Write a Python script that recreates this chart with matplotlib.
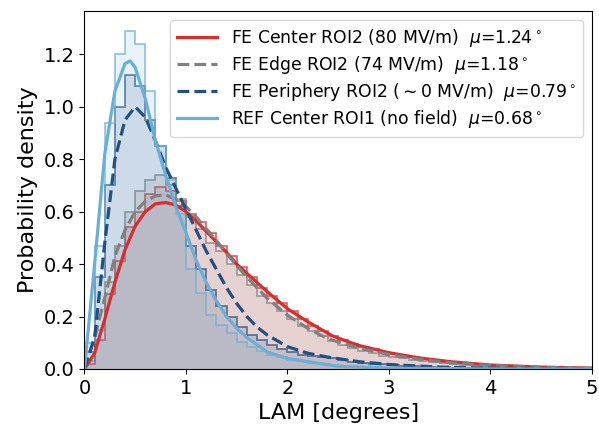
import numpy as np
import matplotlib
matplotlib.use("Agg")
import matplotlib.pyplot as plt

# bin edges of the LAM histograms (degrees)
edges = np.round(np.arange(0, 5.01, 0.1), 2)

# histogram heights (probability density), one value per 0.1 deg bin
center_hist = [0.02, 0.11, 0.285, 0.41, 0.54, 0.60, 0.667, 0.695, 0.68, 0.64,
               0.59, 0.56, 0.52, 0.47, 0.43, 0.39, 0.35, 0.31, 0.28, 0.25,
               0.22, 0.19, 0.165, 0.145, 0.125, 0.11, 0.095, 0.085, 0.075, 0.065,
               0.057, 0.05, 0.044, 0.038, 0.033, 0.028, 0.025, 0.021, 0.018, 0.016,
               0.014, 0.012, 0.01, 0.009, 0.008, 0.007, 0.006, 0.005, 0.004, 0.004]
edge_hist = [0.03, 0.15, 0.33, 0.47, 0.60, 0.68, 0.72, 0.74, 0.70, 0.65,
             0.58, 0.535, 0.48, 0.45, 0.40, 0.36, 0.32, 0.28, 0.25, 0.22,
             0.19, 0.165, 0.145, 0.125, 0.105, 0.09, 0.08, 0.07, 0.06, 0.05,
             0.045, 0.04, 0.035, 0.03, 0.026, 0.022, 0.019, 0.016, 0.014, 0.012,
             0.01, 0.009, 0.008, 0.007, 0.006, 0.005, 0.004, 0.004, 0.003, 0.003]
periph_hist = [0.066, 0.35, 0.70, 1.00, 1.12, 1.08, 0.95, 0.85, 0.73, 0.62,
               0.47, 0.38, 0.30, 0.24, 0.20, 0.16, 0.13, 0.11, 0.09, 0.075,
               0.065, 0.055, 0.05, 0.045, 0.04, 0.033, 0.028, 0.024, 0.02, 0.017,
               0.014, 0.012, 0.01, 0.009, 0.008, 0.006, 0.005, 0.004, 0.004, 0.003,
               0.003, 0.002, 0.002, 0.002, 0.001, 0.001, 0.001, 0.001, 0.0, 0.0]
ref_hist = [0.10, 0.47, 0.94, 1.20, 1.29, 1.24, 1.06, 0.85, 0.72, 0.59,
            0.38, 0.29, 0.205, 0.167, 0.136, 0.104, 0.085, 0.07, 0.053, 0.045,
            0.035, 0.03, 0.024, 0.02, 0.015, 0.012, 0.01, 0.008, 0.006, 0.005,
            0.004, 0.003, 0.003, 0.002, 0.002, 0.002, 0.001, 0.001, 0.001, 0.001,
            0.001, 0.0, 0.001, 0.0, 0.0, 0.0, 0.0, 0.0, 0.0, 0.0]

# fitted density curves
center_x = [0, 0.1, 0.2, 0.3, 0.4, 0.5, 0.6, 0.7, 0.8, 0.9, 1.0, 1.1, 1.2, 1.3, 1.4,
            1.5, 1.6, 1.8, 2.0, 2.2, 2.45, 2.7, 3.0, 3.3, 3.6, 4.0, 4.5, 5.0]
center_y = [0, 0.06, 0.19, 0.33, 0.455, 0.545, 0.60, 0.63, 0.635, 0.625, 0.60, 0.565,
            0.525, 0.485, 0.445, 0.40, 0.365, 0.295, 0.23, 0.18, 0.125, 0.09, 0.062,
            0.042, 0.028, 0.015, 0.007, 0.003]
edge_x = [0, 0.1, 0.2, 0.3, 0.4, 0.5, 0.6, 0.7, 0.8, 0.9, 1.0, 1.1, 1.2, 1.3, 1.4,
          1.5, 1.6, 1.8, 2.0, 2.2, 2.4, 2.7, 3.0, 3.3, 3.6, 4.0, 4.5, 5.0]
edge_y = [0, 0.12, 0.27, 0.43, 0.53, 0.60, 0.64, 0.66, 0.665, 0.645, 0.62, 0.58,
          0.535, 0.49, 0.44, 0.395, 0.35, 0.27, 0.205, 0.155, 0.115, 0.08, 0.055,
          0.037, 0.024, 0.013, 0.006, 0.003]
periph_x = [0, 0.1, 0.2, 0.3, 0.4, 0.5, 0.6, 0.7, 0.8, 0.9, 1.0, 1.1, 1.2, 1.3, 1.4,
            1.5, 1.6, 1.7, 1.8, 2.0, 2.2, 2.4, 2.7, 3.0, 3.5, 4.0, 5.0]
periph_y = [0, 0.12, 0.48, 0.80, 0.95, 1.0, 0.96, 0.87, 0.77, 0.69, 0.61, 0.53,
            0.45, 0.38, 0.31, 0.25, 0.20, 0.16, 0.13, 0.085, 0.06, 0.045, 0.028,
            0.017, 0.007, 0.003, 0.0]
ref_x = [0, 0.1, 0.2, 0.3, 0.4, 0.45, 0.5, 0.6, 0.7, 0.8, 0.9, 1.0, 1.1, 1.2, 1.3,
         1.4, 1.5, 1.6, 1.8, 2.0, 2.5, 3.0, 4.0, 5.0]
ref_y = [0, 0.40, 0.82, 1.06, 1.165, 1.175, 1.15, 1.03, 0.87, 0.74, 0.62, 0.52,
         0.415, 0.33, 0.26, 0.20, 0.155, 0.12, 0.065, 0.04, 0.01, 0.003, 0.0, 0.0]

labels = [r'FE Center ROI2 (80 MV/m)  $\mu$=1.24$^\circ$',
          r'FE Edge ROI2 (74 MV/m)  $\mu$=1.18$^\circ$',
          r'FE Periphery ROI2 ($\sim$0 MV/m)  $\mu$=0.79$^\circ$',
          r'REF Center ROI1 (no field)  $\mu$=0.68$^\circ$']
colors = ['#d62f2f', '#808080', '#23507f', '#6baed6']
styles = ['-', '--', '--', '-']

hists = [center_hist, edge_hist, periph_hist, ref_hist]
curves = [(center_x, center_y), (edge_x, edge_y), (periph_x, periph_y), (ref_x, ref_y)]

fig = plt.figure(figsize=(5.99, 4.28), dpi=100)
ax = fig.add_axes([0.141, 0.138, 0.847, 0.836])

for h, c in zip(hists, colors):
    ax.stairs(h, edges, fill=True, color=c, alpha=0.15, linewidth=0)
    ax.stairs(h, edges, color=c, alpha=0.7, linewidth=1.3)

for (cx, cy), c, ls, lab in zip(curves, colors, styles, labels):
    ax.plot(cx, cy, color=c, linestyle=ls, linewidth=2.3, label=lab)

ax.set_xlim(0, 5)
ax.set_ylim(0, 1.365)
ax.set_xlabel('LAM [degrees]', fontsize=16)
ax.set_ylabel('Probability density', fontsize=16)
ax.tick_params(labelsize=14)
ax.legend(loc='upper right', fontsize=12.4, labelspacing=0.3, handlelength=2.3)

fig.savefig('out.png', dpi=100)
